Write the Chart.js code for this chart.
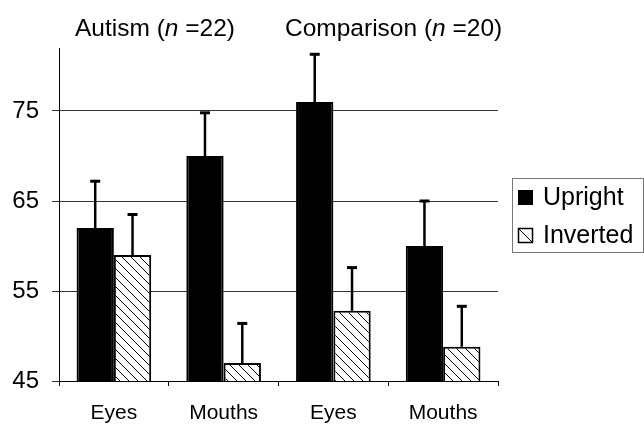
<!DOCTYPE html>
<html>
<head>
<meta charset="utf-8">
<script src="https://cdn.jsdelivr.net/npm/chart.js@4"></script>
<style>
html,body{margin:0;padding:0;background:#fff;}
#wrap{width:644px;height:424px;position:relative;}
</style>
</head>
<body>
<div id="wrap"><canvas id="c" width="644" height="424"></canvas></div>
<script>
// ---- data ----
const categories = ["Eyes", "Mouths", "Eyes", "Mouths"];
const uprightValues = [62, 70, 76, 60];
const uprightErrors = [5.2, 4.8, 5.3, 5.0];
const invertedValues = [59, 47, 52.8, 48.8];
const invertedErrors = [4.5, 4.4, 4.8, 4.5];
const yTickValues = [45, 55, 65, 75];
const seriesNames = ["Upright", "Inverted"];
const groupTitles = [
  ["Autism (", "n", " =22)"],
  ["Comparison (", "n", " =20)"]
];

const FONT = '"Liberation Sans", Arial, Helvetica, sans-serif';

function makeHatch() {
  const s = 9;
  const pc = document.createElement('canvas');
  pc.width = s; pc.height = s;
  const p = pc.getContext('2d');
  p.fillStyle = '#fff';
  p.fillRect(0, 0, s, s);
  p.strokeStyle = '#000';
  p.lineWidth = 1;
  p.beginPath();
  p.moveTo(-1, -1); p.lineTo(s + 1, s + 1);
  p.moveTo(-1, s - 1); p.lineTo(1, s + 1);
  p.moveTo(s - 1, -1); p.lineTo(s + 1, 1);
  p.stroke();
  return p.createPattern(pc, 'repeat');
}

const ctx = document.getElementById('c').getContext('2d');
const hatch = makeHatch();

const errorBars = {
  id: 'errorBars',
  afterDatasetsDraw(chart) {
    const c = chart.ctx;
    const y = chart.scales.y;
    chart.data.datasets.forEach((ds, di) => {
      const meta = chart.getDatasetMeta(di);
      meta.data.forEach((el, i) => {
        const top = y.getPixelForValue(ds.data[i] + ds.errors[i]);
        c.save();
        c.strokeStyle = '#000';
        c.lineWidth = 2.5;
        c.beginPath();
        c.moveTo(el.x, el.y);
        c.lineTo(el.x, top);
        c.stroke();
        c.lineWidth = 3;
        c.beginPath();
        c.moveTo(el.x - 5, top);
        c.lineTo(el.x + 5, top);
        c.stroke();
        c.restore();
      });
    });
  }
};

const titlesAndLegend = {
  id: 'titlesAndLegend',
  afterDraw(chart) {
    const c = chart.ctx;
    c.save();
    c.fillStyle = '#000';
    c.textBaseline = 'alphabetic';
    const starts = [75, 285];
    groupTitles.forEach((parts, gi) => {
      let x = starts[gi];
      parts.forEach((t, pi) => {
        c.font = (pi === 1 ? 'italic ' : '') + '24.5px ' + FONT;
        c.fillText(t, x, 36);
        x += c.measureText(t).width;
      });
    });
    // legend
    c.strokeStyle = '#777';
    c.lineWidth = 1;
    c.strokeRect(512.5, 178.5, 131, 74);
    c.font = '25px ' + FONT;
    c.textBaseline = 'middle';
    // upright
    c.fillStyle = '#000';
    c.fillRect(518, 190, 15, 15);
    c.fillText(chart.data.datasets[0].label, 543, 198);
    // inverted
    c.fillStyle = '#fff';
    c.fillRect(518, 228, 15, 15);
    c.strokeStyle = '#000';
    c.lineWidth = 1.5;
    c.strokeRect(518.5, 228.5, 14, 14);
    c.beginPath();
    c.moveTo(519, 229); c.lineTo(532, 242);
    c.lineWidth = 1;
    c.stroke();
    c.fillStyle = '#000';
    c.fillText(chart.data.datasets[1].label, 543, 236);
    c.restore();
  }
};

new Chart(ctx, {
  type: 'bar',
  data: {
    labels: categories,
    datasets: [
      {
        label: seriesNames[0],
        data: uprightValues,
        errors: uprightErrors,
        backgroundColor: '#000',
        borderColor: '#000',
        borderWidth: 2,
        borderSkipped: false,
        categoryPercentage: 0.68,
        barPercentage: 1.0
      },
      {
        label: seriesNames[1],
        data: invertedValues,
        errors: invertedErrors,
        backgroundColor: hatch,
        borderColor: '#000',
        borderWidth: 2,
        borderSkipped: false,
        categoryPercentage: 0.68,
        barPercentage: 1.0
      }
    ]
  },
  options: {
    responsive: false,
    animation: false,
    devicePixelRatio: 1,
    layout: { padding: { left: 0, right: 146, top: 48, bottom: 0 } },
    plugins: {
      legend: { display: false },
      tooltip: { enabled: false },
      title: { display: false }
    },
    scales: {
      x: {
        offset: true,
        grid: {
          offset: true,
          drawOnChartArea: false,
          drawTicks: true,
          tickLength: 5,
          color: '#000',
          lineWidth: 1
        },
        border: { display: true, color: '#000', width: 1 },
        ticks: {
          color: '#000',
          font: { family: FONT, size: 21 },
          padding: 15,
          maxRotation: 0
        },
        afterFit(scale) { scale.height = 43; }
      },
      y: {
        min: 45,
        max: 82,
        afterBuildTicks(scale) {
          scale.ticks = yTickValues.map(v => ({ value: v }));
        },
        grid: {
          color: '#333',
          lineWidth: 1,
          drawTicks: true,
          tickLength: 7
        },
        border: { display: true, color: '#000', width: 1 },
        ticks: {
          color: '#000',
          font: { family: FONT, size: 24 },
          padding: 13
        },
        afterFit(scale) { scale.width = 59; }
      }
    }
  },
  plugins: [errorBars, titlesAndLegend]
});
</script>
</body>
</html>
